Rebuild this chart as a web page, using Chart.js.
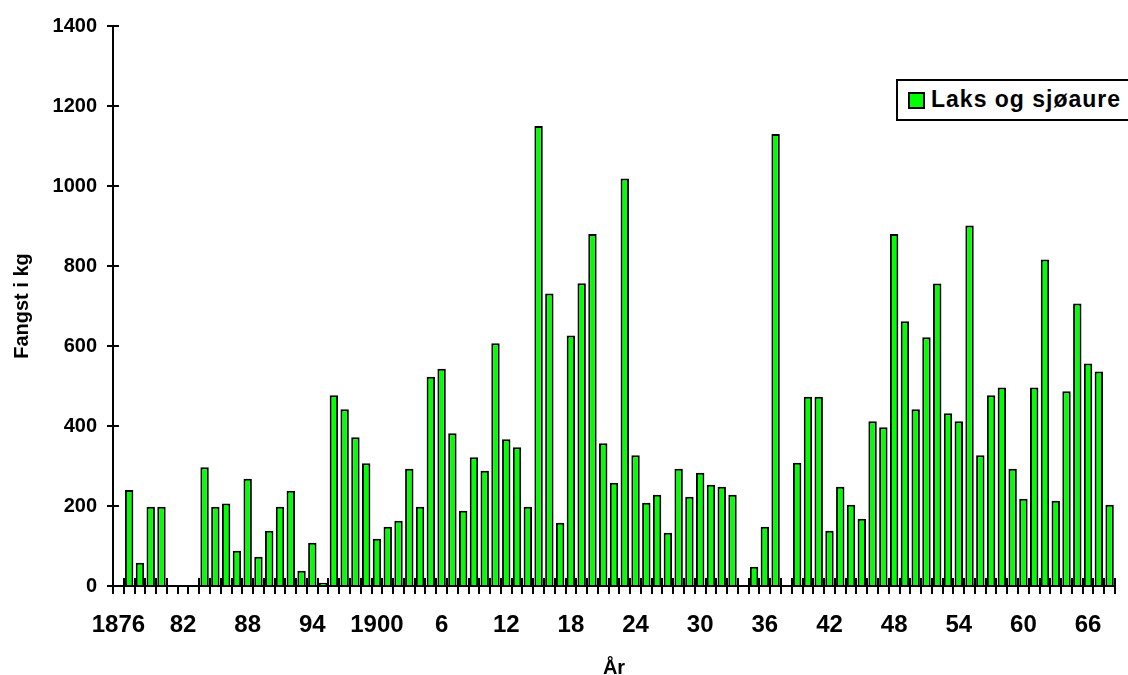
<!DOCTYPE html>
<html>
<head>
<meta charset="utf-8">
<script src="https://cdn.jsdelivr.net/npm/chart.js@4.4.1/dist/chart.umd.min.js"></script>
<style>
  html, body { margin: 0; padding: 0; background: #ffffff; }
  #wrap { position: relative; width: 1128px; height: 675px; overflow: hidden; }
  canvas { display: block; }
  #legend {
    position: absolute; left: 896px; top: 79px; width: 260px; height: 38px;
    border: 2px solid #000; background: #fff; box-sizing: content-box;
    font-family: "Liberation Sans", Arial, sans-serif; font-weight: bold;
    font-size: 23px; letter-spacing: 1px; color: #000;
  }
  #legend .sw {
    position: absolute; left: 10px; top: 11px; width: 13px; height: 13px;
    background: #00ff00; border: 2px solid #000;
  }
  #legend .tx { position: absolute; left: 33px; top: 5px; white-space: nowrap; }
</style>
</head>
<body>
<div id="wrap">
  <canvas id="c" width="1128" height="675"></canvas>
  <div id="legend"><span class="sw"></span><span class="tx" id="legendText"></span></div>
</div>
<script>
// Categories (years)
const years = [
  1876,1877,1878,1879,1880,1881,1882,1883,1884,1885,1886,1887,1888,1889,1890,1891,1892,1893,1894,1895,
  1896,1897,1898,1899,1900,1901,1902,1903,1904,1905,1906,1907,1908,1909,1910,1911,1912,1913,1914,1915,
  1916,1917,1918,1919,1920,1921,1922,1923,1924,1925,1926,1927,1928,1929,1930,1931,1932,1933,1934,1935,
  1936,1937,1938,1939,1940,1941,1942,1943,1944,1945,1946,1947,1948,1949,1950,1951,1952,1953,1954,1955,
  1956,1957,1958,1959,1960,1961,1962,1963,1964,1965,1966,1967,1968
];

// Series: Laks og sjøaure, catch in kg (null = no bar)
const fangstKg = [
  null, 240,  58, 198, 198, null, null, null, 297, 198, 206,  88, 268,  73, 138, 198, 238,  38, 108,   8,
   477, 442, 372, 307, 118, 148, 163, 293, 198, 523, 543, 382, 188, 322, 288, 607, 367, 347, 198,1150,
   731, 158, 626, 757, 880, 357, 258,1019, 327, 208, 228, 133, 293, 223, 283, 253, 248, 228, null,  48,
   148,1130, null, 308, 473, 473, 138, 248, 203, 168, 412, 397, 880, 662, 442, 622, 756, 432, 412, 901,
   327, 477, 496, 293, 218, 496, 816, 213, 487, 706, 556, 536, 203
];

// Tick labels shown every 6th year
const xTickLabels = ["1876","82","88","94","1900","6","12","18","24","30","36","42","48","54","60","66"];
const tickEvery = 6;

const seriesName = "Laks og sjøaure";
const yTitle = "Fangst i kg";
const xTitle = "År";

document.getElementById('legendText').textContent = seriesName;

const FONT = '"Liberation Sans", Arial, sans-serif';

// Draws the inner half of the crossing tick marks (above the x axis, right of the y axis)
const crossTicks = {
  id: 'crossTicks',
  afterDatasetsDraw(chart) {
    const ctx = chart.ctx;
    const xs = chart.scales.x, ys = chart.scales.y;
    const area = chart.chartArea;
    ctx.save();
    ctx.strokeStyle = '#000';
    ctx.lineWidth = 2;
    ys.ticks.forEach((t, i) => {
      const py = Math.round(ys.getPixelForTick(i));
      ctx.beginPath();
      ctx.moveTo(area.left, py);
      ctx.lineTo(area.left + 6, py);
      ctx.stroke();
    });
    const n = years.length;
    for (let b = 0; b <= n; b++) {
      const leftHas = b > 0 && fangstKg[b - 1] !== null;
      const rightHas = b < n && fangstKg[b] !== null;
      if (!leftHas && !rightHas) continue;
      let px;
      if (b === 0) px = area.left;
      else if (b === n) px = area.right;
      else px = (xs.getPixelForValue(b - 1) + xs.getPixelForValue(b)) / 2;
      px = Math.round(px);
      ctx.beginPath();
      ctx.moveTo(px, area.bottom);
      ctx.lineTo(px, area.bottom - 8);
      ctx.stroke();
    }
    ctx.restore();
  }
};

new Chart(document.getElementById('c'), {
  type: 'bar',
  data: {
    labels: years,
    datasets: [{
      label: seriesName,
      data: fangstKg,
      backgroundColor: '#00ff00',
      borderColor: '#000000',
      borderWidth: 2,
      barPercentage: 0.78,
      categoryPercentage: 1.0
    }]
  },
  options: {
    responsive: false,
    animation: false,
    devicePixelRatio: 1,
    layout: { padding: { top: 26, right: 13, left: 0, bottom: 0 } },
    plugins: { legend: { display: false }, tooltip: { enabled: false } },
    scales: {
      x: {
        offset: true,
        grid: { offset: true, drawOnChartArea: false, drawTicks: true, tickLength: 8, color: '#000', lineWidth: 2 },
        border: { display: true, color: '#000', width: 2 },
        ticks: {
          autoSkip: false, maxRotation: 0, minRotation: 0, color: '#000', padding: 17,
          font: { family: FONT, size: 24, weight: 'bold' },
          callback: (v, i) => (i % tickEvery === 0 ? xTickLabels[i / tickEvery] : '')
        },
        title: { display: true, text: xTitle, color: '#000', font: { family: FONT, size: 20, weight: 'bold', lineHeight: 1.0 }, padding: { top: 0, bottom: -3 } },
        afterFit: (s) => { s.height = 89; }
      },
      y: {
        min: 0, max: 1400,
        grid: { drawOnChartArea: false, drawTicks: true, tickLength: 6, color: '#000', lineWidth: 2 },
        border: { display: true, color: '#000', width: 2 },
        ticks: { stepSize: 200, color: '#000', padding: 10, font: { family: FONT, size: 20, weight: 'bold' },
                 callback: (v) => String(v) },
        title: { display: true, text: yTitle, color: '#000', font: { family: FONT, size: 20, weight: 'bold', lineHeight: 1.2 }, padding: { top: 10, bottom: 0 } },
        afterFit: (s) => { s.width = 113; }
      }
    }
  },
  plugins: [crossTicks]
});
</script>
</body>
</html>
